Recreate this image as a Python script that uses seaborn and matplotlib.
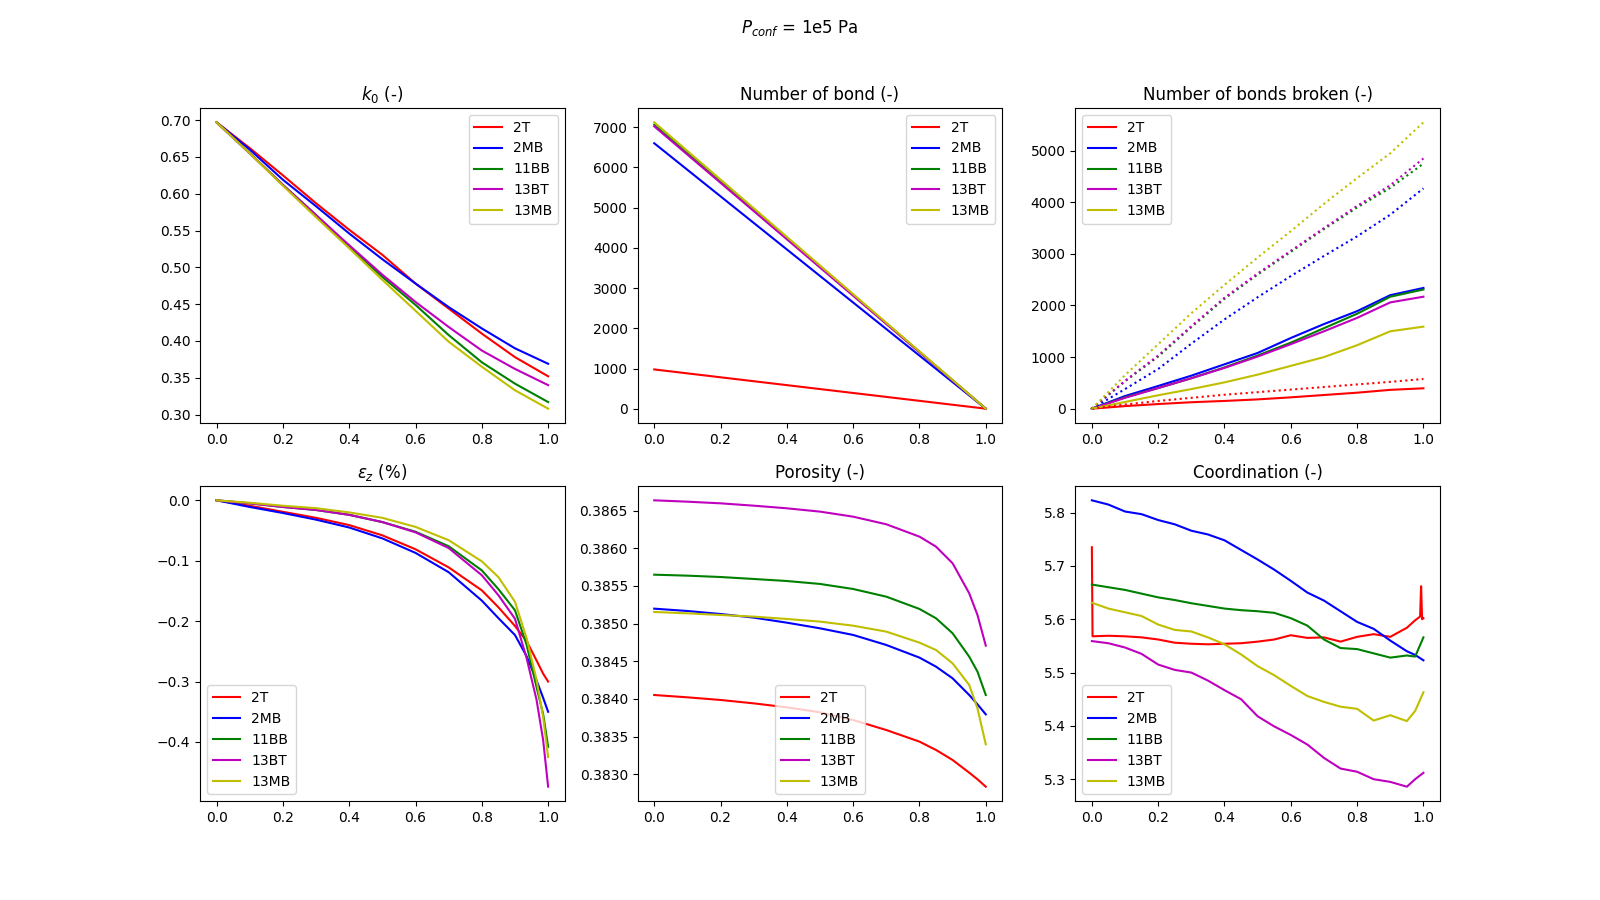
#Recreating P_conf = 1e5 Pa comparison chart

import numpy as np
import seaborn as sns
import matplotlib
matplotlib.use("Agg")
import matplotlib.pyplot as plt

#sample names and colours
samples = ["2T", "2MB", "11BB", "13BT", "13MB"]
colors = ["r", "b", "g", "m", "y"]

#k0 (-)
k0_x = [0.0, 0.1, 0.2, 0.3, 0.4, 0.5, 0.6, 0.7, 0.8, 0.9, 1.0]
k0_2T = [0.697, 0.662, 0.625, 0.587, 0.551, 0.517, 0.478, 0.444, 0.410, 0.378, 0.352]
k0_2MB = [0.697, 0.660, 0.619, 0.583, 0.546, 0.511, 0.478, 0.446, 0.417, 0.390, 0.369]
k0_11BB = [0.697, 0.655, 0.612, 0.571, 0.528, 0.487, 0.449, 0.408, 0.371, 0.342, 0.317]
k0_13BT = [0.697, 0.655, 0.612, 0.571, 0.530, 0.490, 0.453, 0.419, 0.387, 0.362, 0.340]
k0_13MB = [0.697, 0.655, 0.611, 0.568, 0.526, 0.483, 0.441, 0.399, 0.365, 0.333, 0.308]

#number of bonds (-)
bond_x = [0.0, 1.0]
bond_2T = [980, 5]
bond_2MB = [6600, 5]
bond_11BB = [7060, 5]
bond_13BT = [7020, 5]
bond_13MB = [7120, 5]

#number of bonds broken (-) : solid and dotted series
broken_x = [0.0, 0.1, 0.2, 0.3, 0.4, 0.5, 0.6, 0.7, 0.8, 0.9, 1.0]
broken_2T = [0, 50, 90, 125, 150, 180, 220, 265, 310, 365, 395]
broken_2MB = [0, 245, 440, 640, 860, 1080, 1370, 1640, 1890, 2200, 2340]
broken_11BB = [0, 220, 400, 590, 800, 1030, 1280, 1560, 1840, 2170, 2310]
broken_13BT = [0, 210, 400, 590, 790, 1010, 1250, 1500, 1760, 2060, 2170]
broken_13MB = [0, 130, 260, 380, 510, 660, 830, 1000, 1230, 1500, 1590]
dotted_2T = [0, 80, 150, 210, 270, 320, 370, 420, 470, 520, 575]
dotted_2MB = [0, 380, 770, 1260, 1730, 2160, 2570, 2960, 3340, 3760, 4270]
dotted_11BB = [0, 530, 1010, 1580, 2130, 2600, 3040, 3480, 3900, 4280, 4750]
dotted_13BT = [0, 540, 1030, 1600, 2150, 2620, 3060, 3500, 3930, 4330, 4850]
dotted_13MB = [0, 650, 1250, 1850, 2400, 2930, 3440, 3970, 4470, 4950, 5550]

#eps_z (%)
eps_x = [0.0, 0.1, 0.2, 0.3, 0.4, 0.5, 0.6, 0.7, 0.8, 0.85, 0.9, 0.935, 0.965, 0.985, 1.0]
eps_2T = [0.0, -0.009, -0.019, -0.029, -0.041, -0.058, -0.081, -0.111, -0.149, -0.177, -0.208,
          -0.233, -0.265, -0.287, -0.300]
eps_2MB = [0.0, -0.011, -0.021, -0.032, -0.045, -0.063, -0.087, -0.119, -0.166, -0.195, -0.223,
           -0.258, -0.298, -0.327, -0.350]
eps_11BB = [0.0, -0.005, -0.011, -0.016, -0.024, -0.036, -0.052, -0.076, -0.116, -0.147, -0.182,
            -0.239, -0.309, -0.354, -0.408]
eps_13BT = [0.0, -0.005, -0.011, -0.016, -0.024, -0.036, -0.053, -0.079, -0.124, -0.157, -0.196,
            -0.261, -0.330, -0.397, -0.474]
eps_13MB = [0.0, -0.004, -0.009, -0.013, -0.020, -0.029, -0.044, -0.066, -0.101, -0.127, -0.168,
            -0.228, -0.297, -0.359, -0.425]

#porosity (-)
por_x = [0.0, 0.1, 0.2, 0.3, 0.4, 0.5, 0.6, 0.7, 0.8, 0.85, 0.9, 0.95, 0.975, 1.0]
por_2T = [0.384053, 0.384022, 0.383987, 0.383942, 0.383889, 0.383823, 0.383721, 0.383588, 0.383434,
          0.383323, 0.383190, 0.383022, 0.382934, 0.382836]
por_2MB = [0.385199, 0.385168, 0.385128, 0.385080, 0.385013, 0.384938, 0.384850, 0.384717, 0.384549,
           0.384429, 0.384274, 0.384053, 0.383929, 0.383796]
por_11BB = [0.385650, 0.385637, 0.385619, 0.385593, 0.385566, 0.385527, 0.385460, 0.385358, 0.385195,
            0.385071, 0.384872, 0.384562, 0.384363, 0.384053]
por_13BT = [0.386637, 0.386619, 0.386597, 0.386566, 0.386531, 0.386487, 0.386420, 0.386319, 0.386155,
            0.386022, 0.385801, 0.385403, 0.385115, 0.384708]
por_13MB = [0.385155, 0.385137, 0.385115, 0.385093, 0.385062, 0.385027, 0.384973, 0.384894, 0.384748,
            0.384650, 0.384473, 0.384186, 0.383876, 0.383398]

#coordination (-)
coord_x = [0.0, 0.05, 0.1, 0.15, 0.2, 0.25, 0.3, 0.35, 0.4, 0.45, 0.5, 0.55, 0.6, 0.65,
           0.7, 0.75, 0.8, 0.85, 0.9, 0.95, 0.975, 1.0]
coord_2MB = [5.823, 5.815, 5.802, 5.797, 5.786, 5.778, 5.766, 5.759, 5.748, 5.730, 5.712, 5.693,
             5.672, 5.650, 5.635, 5.615, 5.595, 5.582, 5.560, 5.540, 5.533, 5.523]
coord_11BB = [5.665, 5.660, 5.655, 5.648, 5.641, 5.636, 5.630, 5.625, 5.620, 5.617, 5.615, 5.612,
              5.602, 5.588, 5.562, 5.546, 5.544, 5.536, 5.528, 5.532, 5.530, 5.566]
coord_13BT = [5.559, 5.555, 5.547, 5.535, 5.515, 5.505, 5.500, 5.485, 5.467, 5.450, 5.418, 5.399,
              5.383, 5.365, 5.340, 5.320, 5.314, 5.300, 5.295, 5.286, 5.300, 5.312]
coord_13MB = [5.631, 5.620, 5.613, 5.606, 5.590, 5.580, 5.577, 5.566, 5.553, 5.534, 5.512, 5.495,
              5.475, 5.456, 5.445, 5.436, 5.432, 5.410, 5.420, 5.409, 5.428, 5.463]
#2T has spikes at start and end
coord_2T_x = [0.0, 0.002, 0.05, 0.1, 0.15, 0.2, 0.25, 0.3, 0.35, 0.4, 0.45, 0.5, 0.55, 0.6, 0.65,
              0.7, 0.75, 0.8, 0.85, 0.9, 0.95, 0.975, 0.99, 0.993, 0.996, 1.0]
coord_2T = [5.735, 5.568, 5.569, 5.568, 5.566, 5.562, 5.556, 5.554, 5.553, 5.554, 5.555, 5.558, 5.562,
            5.570, 5.565, 5.566, 5.558, 5.567, 5.572, 5.567, 5.584, 5.598, 5.605, 5.662, 5.600, 5.602]

fig, axes = plt.subplots(2, 3, figsize=(16, 9))
fig.suptitle("$P_{conf}$ = 1e5 Pa")

#k0
ax = axes[0, 0]
for name, c, vals in zip(samples, colors, [k0_2T, k0_2MB, k0_11BB, k0_13BT, k0_13MB]):
    sns.lineplot(x=k0_x, y=vals, color=c, label=name, ax=ax)
ax.set_title("$k_0$ (-)")
ax.legend(loc="upper right")

#number of bond
ax = axes[0, 1]
for name, c, vals in zip(samples, colors, [bond_2T, bond_2MB, bond_11BB, bond_13BT, bond_13MB]):
    sns.lineplot(x=bond_x, y=vals, color=c, label=name, ax=ax)
ax.set_title("Number of bond (-)")
ax.legend(loc="upper right")

#bonds broken
ax = axes[0, 2]
solid = [broken_2T, broken_2MB, broken_11BB, broken_13BT, broken_13MB]
dotted = [dotted_2T, dotted_2MB, dotted_11BB, dotted_13BT, dotted_13MB]
for name, c, vals in zip(samples, colors, solid):
    sns.lineplot(x=broken_x, y=vals, color=c, label=name, ax=ax)
for c, vals in zip(colors, dotted):
    sns.lineplot(x=broken_x, y=vals, color=c, linestyle=":", ax=ax)
ax.set_title("Number of bonds broken (-)")
handles, labels = ax.get_legend_handles_labels()
ax.legend(handles[:5], labels[:5], loc="upper left")

#eps_z
ax = axes[1, 0]
for name, c, vals in zip(samples, colors, [eps_2T, eps_2MB, eps_11BB, eps_13BT, eps_13MB]):
    sns.lineplot(x=eps_x, y=vals, color=c, label=name, ax=ax)
ax.set_title(r"$\varepsilon_z$ (%)")
ax.legend(loc="lower left")

#porosity
ax = axes[1, 1]
for name, c, vals in zip(samples, colors, [por_2T, por_2MB, por_11BB, por_13BT, por_13MB]):
    sns.lineplot(x=por_x, y=vals, color=c, label=name, ax=ax)
ax.set_title("Porosity (-)")
ax.legend(loc="lower center")

#coordination
ax = axes[1, 2]
sns.lineplot(x=coord_2T_x, y=coord_2T, color="r", label="2T", ax=ax)
for name, c, vals in zip(samples[1:], colors[1:], [coord_2MB, coord_11BB, coord_13BT, coord_13MB]):
    sns.lineplot(x=coord_x, y=vals, color=c, label=name, ax=ax)
ax.set_title("Coordination (-)")
ax.legend(loc="lower left")

plt.savefig("out.png", dpi=100)
